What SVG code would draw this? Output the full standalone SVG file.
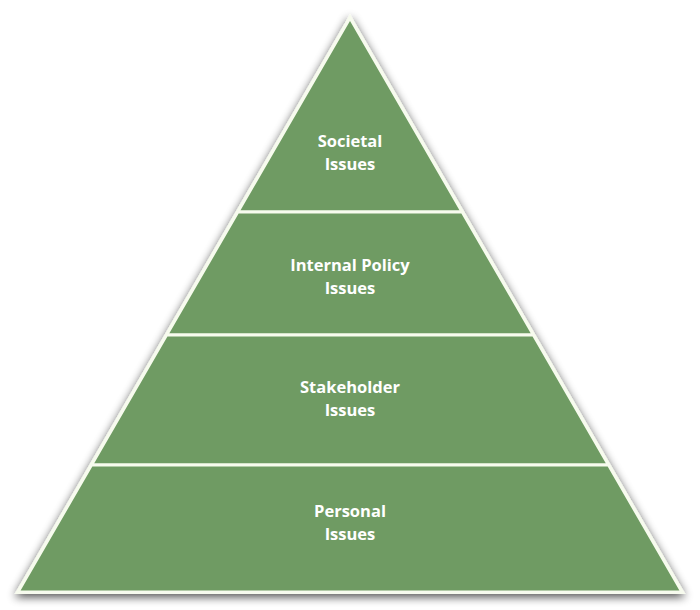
<svg xmlns="http://www.w3.org/2000/svg" width="700" height="610" viewBox="0 0 700 610">
<defs>
<filter id="sh" x="-10%" y="-10%" width="120%" height="120%">
<feGaussianBlur in="SourceAlpha" stdDeviation="5"/>
<feOffset dx="0" dy="3" result="b"/>
<feComponentTransfer><feFuncA type="linear" slope="0.7"/></feComponentTransfer>
<feMerge><feMergeNode/><feMergeNode in="SourceGraphic"/></feMerge>
</filter>
</defs>
<style>
.band{fill:#6f9b63;stroke:#f7fbee;stroke-width:3;stroke-linejoin:miter}
.t{font-family:"Open Sans","Liberation Sans",sans-serif;font-weight:700;font-size:16.5px;fill:#ffffff;text-anchor:middle}
</style>
<rect width="700" height="610" fill="#ffffff"/>
<polygon points="350,18 682,592 18,592" fill="#f7fbee" stroke="#f7fbee" stroke-width="4" stroke-linejoin="miter" filter="url(#sh)"/>
<g id="societal">
<polygon class="band" points="350,18 462.2,212 237.8,212"/>
<text class="t" x="350" y="147">Societal</text>
<text class="t" x="350" y="170">Issues</text>
</g>
<g id="internal-policy">
<polygon class="band" points="237.8,212 462.2,212 533.4,335 166.6,335"/>
<text class="t" x="350" y="271">Internal Policy</text>
<text class="t" x="350" y="294">Issues</text>
</g>
<g id="stakeholder">
<polygon class="band" points="166.6,335 533.4,335 608.5,465 91.5,465"/>
<text class="t" x="350" y="393">Stakeholder</text>
<text class="t" x="350" y="416">Issues</text>
</g>
<g id="personal">
<polygon class="band" points="91.5,465 608.5,465 682,592 18,592"/>
<text class="t" x="350" y="517">Personal</text>
<text class="t" x="350" y="540">Issues</text>
</g>
<g id="connectors"></g>
</svg>
